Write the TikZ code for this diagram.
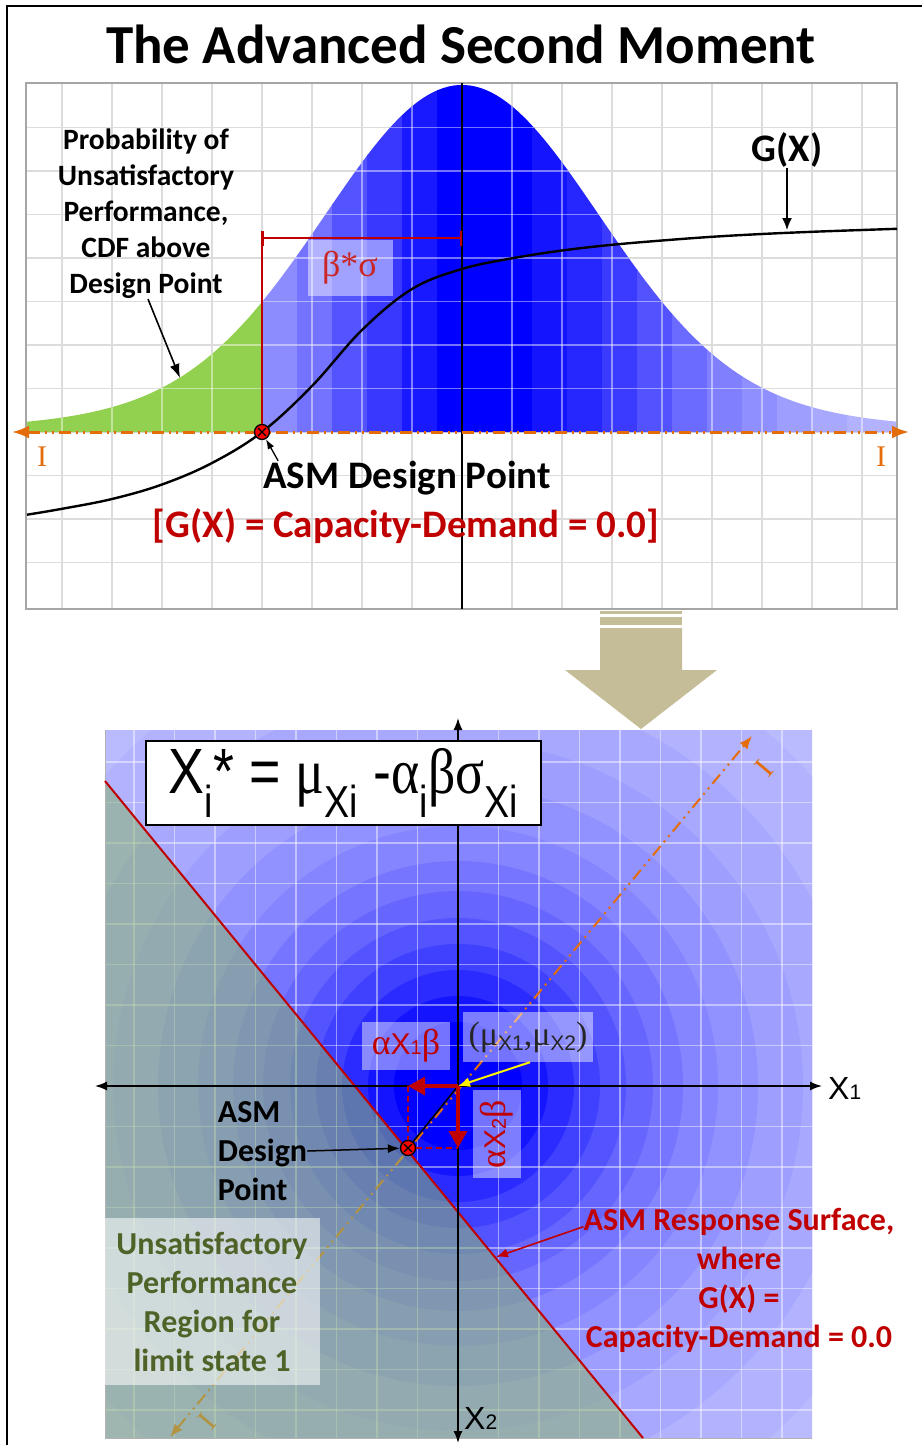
\documentclass[tikz,border=0pt]{standalone}
\usepackage{graphicx}
\usepackage{fontspec}
\setmainfont{Carlito}
\newfontfamily\arialfont{Liberation Sans}
\newfontfamily\timesfont{Liberation Serif}
\usetikzlibrary{arrows.meta}
\definecolor{asmred}{RGB}{192,0,0}
\definecolor{asmorange}{RGB}{228,108,10}
\definecolor{cdfgreen}{RGB}{146,208,80}
\definecolor{regionolive}{RGB}{79,98,40}
\definecolor{khaki}{RGB}{196,189,151}
\definecolor{gridgray}{RGB}{220,220,220}
\definecolor{failgreen}{RGB}{137,180,112}
\tikzset{
  bigtxt/.style={font=\bfseries\fontsize{39}{47.5}\selectfont,inner sep=0pt,align=center},
  midtxt/.style={font=\bfseries\fontsize{32}{39}\selectfont,inner sep=0pt,align=center},
  smalltxt/.style={font=\bfseries\fontsize{29.5}{36}\selectfont,inner sep=0pt,align=center},
  haze/.style={fill=white,fill opacity=#1,text opacity=1},
  haze/.default=0.45,
  dsgnpt/.style={circle,draw=black,fill=red,line width=1.3pt,minimum size=15pt,inner sep=0pt,
    path picture={
      \draw[line width=1.1pt] ([xshift=3.5pt,yshift=-3.5pt]path picture bounding box.north west) -- ([xshift=-3.5pt,yshift=3.5pt]path picture bounding box.south east);
      \draw[line width=1.1pt] ([xshift=-3.5pt,yshift=-3.5pt]path picture bounding box.north east) -- ([xshift=3.5pt,yshift=3.5pt]path picture bounding box.south west);}},
  limitaxis/.style={asmorange,dash pattern=on 12pt off 5pt on 2pt off 5pt on 2pt off 5pt},
  capI/.style={text=asmorange,font=\timesfont\fontsize{30}{30}\selectfont,inner sep=0pt},
  gridline/.style={gridgray,line width=1.2pt},
  overgrid/.style={white,opacity=0.45,line width=1.2pt},
  compo/.style={asmred,line width=3.5pt,-{Triangle[length=17pt,width=18pt]}},
  proj/.style={asmred,line width=1.5pt,dash pattern=on 6pt off 4pt}
}
\begin{document}
\begin{tikzpicture}[x=1pt,y=-1pt,
  declare function={bell(\x)=347*(0.9*exp(-((\x-462)/100)^2/3.645)+0.1*exp(-((\x-462)/100)^2/13.52));}]
\useasboundingbox (0,0) rectangle (922,1445);
\fill[white] (0,0) rectangle (922,1445);
\draw[line width=2pt] (7,1445) -- (7,6) -- (922,6);
\node[font=\bfseries\fontsize{55}{60}\selectfont] (title) at (461,44) {The Advanced Second Moment};

\foreach \gx in {62,112,...,862}
  \draw[gridline] (\gx,83) -- (\gx,609);
\foreach \k in {-7,...,3}
  \draw[gridline] (26,{432+43.5*\k}) -- (897,{432+43.5*\k});

\begin{scope}
  \clip (262,432) -- plot[domain=262:897,samples=120] (\x,{432-bell(\x)}) -- (897,432) -- cycle;
  \foreach \xa/\xb/\p in {262/297/45,297/332/55,332/367/67,367/402/78,402/437/90,437/532/100,532/567/92,567/602/85,602/637/77,637/672/68,672/707/58,707/742/50,742/777/44,777/812/38,812/847/34,847/897/30}
    \fill[blue!\p] ({\xa-0.5},80) rectangle ({\xb+0.5},433);
\end{scope}
\fill[cdfgreen] (27,432) -- plot[domain=27:262,samples=60] (\x,{432-bell(\x)}) -- (262,432) -- cycle;
\begin{scope}
  \clip (27,432) -- plot[domain=27:897,samples=200] (\x,{432-bell(\x)}) -- (897,432) -- cycle;
  \foreach \gx in {62,112,...,862}
    \draw[overgrid] (\gx,83) -- (\gx,432);
  \foreach \k in {-7,...,-1}
    \draw[overgrid] (26,{432+43.5*\k}) -- (897,{432+43.5*\k});
\end{scope}
\draw[gray!70,line width=2pt] (26,83) rectangle (897,609);
\draw[line width=1.6pt] (462,83) -- (462,609);

\draw[line width=2.4pt] plot[smooth,tension=0.6] coordinates {(27,514.7) (62,508.8) (112,499) (162,484.5) (212,463) (262,432) (312,386) (362,330) (412,289) (462,269) (512,258.3) (562,250.5) (612,244.8) (662,240.5) (712,236.8) (762,234) (812,231.8) (862,230) (897,228.8)};
\coordinate (lftend) at (12,432);
\coordinate (rgtend) at (909,432);
\draw[limitaxis,line width=3pt,{Latex[length=17pt,width=13pt]}-{Latex[length=17pt,width=13pt]}] (lftend) -- (rgtend);
\node[capI] (iL) at (42,457) {I};
\node[capI] (iR) at (881,457) {I};

\coordinate (bsL) at (262,238);
\coordinate (bsR) at (462,238);
\draw[asmred,line width=1.6pt] (262,432) -- (262,231);
\draw[asmred,line width=1.6pt,{Bar[width=15pt]}-{Bar[width=15pt]}] (bsL) -- (bsR);
\node[haze,text=asmred!85,font=\timesfont\fontsize{36}{36}\selectfont,minimum width=85pt,minimum height=56pt] (bstxt) at (350,268) {β*σ};
\node[dsgnpt] (dp) at (262,432) {};
\node[bigtxt] (dptxt) at (407,478) {ASM Design Point};
\node[bigtxt,text=asmred] (gtxt) at (406,526) {[G(X) = Capacity-Demand = 0.0]};
\draw[line width=1.3pt,-{Latex[length=10pt,width=7pt]}] ([xshift=15pt]dptxt.north west) -- (dp);

\node[smalltxt] (probtxt) at (146,214) {Probability of\\Unsatisfactory\\Performance,\\CDF above\\Design Point};
\coordinate (greentip) at (180,378);
\draw[line width=1.6pt,-{Latex[length=14pt,width=10pt]}] ([xshift=2pt]probtxt.south) -- (greentip);
\node[bigtxt] (gxtxt) at (787,150) {G(X)};
\coordinate (gxtip) at (787,230);
\draw[line width=1.6pt,-{Latex[length=12pt,width=10pt]}] (gxtxt.south) -- (gxtip);

\fill[khaki] (600,611) rectangle (682,614);
\fill[khaki] (600,617) rectangle (682,625);
\fill[khaki] (600,628) -- (682,628) -- (682,670) -- (717,670) -- (641,729) -- (565,670) -- (600,670) -- cycle;

\coordinate (mu) at (458,1086);
\coordinate (lsTop) at (105,781);
\coordinate (lsBot) at (643,1438);
\coordinate (uLow) at (170,1437);
\coordinate (uHigh) at (752,736);
\begin{scope}
  \clip (105,730) rectangle (812,1438);
  \foreach \r/\p in {560/27,470/30,400/34,345/38,300/43,260/48,225/54,195/60,168/67,142/75,116/83,90/92,64/100}
    \fill[blue!\p] (mu) circle[radius=\r pt];
  \foreach \k in {-9,...,9} {
    \draw[overgrid] ({458+40.5*\k},730) -- ({458+40.5*\k},1438);
    \draw[overgrid] (105,{1086+40.5*\k}) -- (812,{1086+40.5*\k});
  }
  \draw[limitaxis,line width=2pt,{Latex[length=13pt,width=10pt]}-{Latex[length=13pt,width=10pt]}] (uLow) -- (uHigh);
  \node[capI,rotate=50] (iLow) at (207,1421) {I};
  \node[capI,rotate=50] (iHigh) at (764,768) {I};
  \fill[failgreen,fill opacity=0.55] (lsTop) -- (lsBot) -- (105,1438) -- cycle;
\end{scope}
\draw[gray!60,line width=1pt] (105,730) -- (105,1438) -- (812,1438);
\draw[asmred,line width=2pt] (lsTop) -- (lsBot);

\coordinate (x1L) at (95,1086);
\coordinate (x1R) at (822,1086);
\coordinate (x2T) at (458,718);
\coordinate (x2B) at (458,1443);
\draw[line width=1.5pt,{Latex[length=12pt,width=9pt]}-{Latex[length=12pt,width=9pt]}] (x1L) -- (x1R);
\draw[line width=1.5pt,{Latex[length=12pt,width=9pt]}-{Latex[length=12pt,width=9pt]}] (x2B) -- (x2T);
\node[font=\arialfont\fontsize{32}{32}\selectfont,anchor=west,inner sep=0pt] (x1txt) at (828,1088) {X{\fontsize{21}{21}\selectfont 1}};
\node[font=\arialfont\fontsize{32}{32}\selectfont,anchor=west,inner sep=0pt] (x2txt) at (464,1418) {X{\fontsize{21}{21}\selectfont 2}};

\node[draw=black,line width=2.2pt,fill=white,minimum width=395pt,minimum height=84pt,font=\arialfont\fontsize{64}{64}\selectfont] (frm) at (343.5,783)
  {\scalebox{0.84}[1]{X\textsubscript{i}* = {\timesfont μ}\textsubscript{Xi} -{\timesfont α}\textsubscript{i}{\timesfont βσ}\textsubscript{Xi}}};

\node[dsgnpt] (dp2) at (408,1148) {};
\draw[proj] (dp2 |- mu) -- (dp2);
\draw[proj] (dp2) -- (mu |- dp2);
\draw[line width=1.5pt] (dp2) -- (mu);
\draw[compo] (mu) -- (dp2 |- mu);
\draw[compo] (mu) -- (mu |- dp2);

\node[haze,minimum width=88pt,minimum height=48pt,text=asmred,font=\arialfont\fontsize{30}{30}\selectfont] (a1txt) at (406,1046) {{\timesfont\fontsize{36}{36}\selectfont α}X{\fontsize{20}{20}\selectfont 1}{\timesfont\fontsize{36}{36}\selectfont β}};
\node[haze,minimum width=88pt,minimum height=48pt,rotate=90,text=asmred,font=\arialfont\fontsize{30}{30}\selectfont] (a2txt) at (497,1134) {{\timesfont\fontsize{36}{36}\selectfont α}X{\fontsize{20}{20}\selectfont 2}{\timesfont\fontsize{36}{36}\selectfont β}};
\node[haze,minimum width=130pt,minimum height=50pt,text=black!85,font=\timesfont\fontsize{34}{34}\selectfont] (mutxt) at (528,1037) {(μ{\arialfont\fontsize{21}{21}\selectfont\raisebox{-5pt}{X1}},μ{\arialfont\fontsize{21}{21}\selectfont\raisebox{-5pt}{X2}})};
\draw[yellow,line width=2pt,-{Latex[length=12pt,width=10pt]}] ([xshift=2pt]mutxt.south) -- (mu);

\node[midtxt,align=left] (asm2txt) at (262.5,1151) {ASM\\Design\\Point};
\draw[line width=1.5pt,-{Latex[length=12pt,width=9pt]}] (asm2txt.east) -- (dp2);

\node[haze=0.55,midtxt,text=regionolive,minimum width=215pt,minimum height=167pt] (unsattxt) at (212,1301.5) {Unsatisfactory\\Performance\\Region for\\limit state 1};

\node[midtxt,text=asmred] (resptxt) at (739,1280) {ASM Response Surface,\\where\\G(X) =\\Capacity-Demand = 0.0};
\coordinate (resptip) at (496,1257);
\draw[asmred,line width=1.6pt,-{Latex[length=12pt,width=9pt]}] ([yshift=-19pt]resptxt.north west) -- (resptip);
\end{tikzpicture}
\end{document}
